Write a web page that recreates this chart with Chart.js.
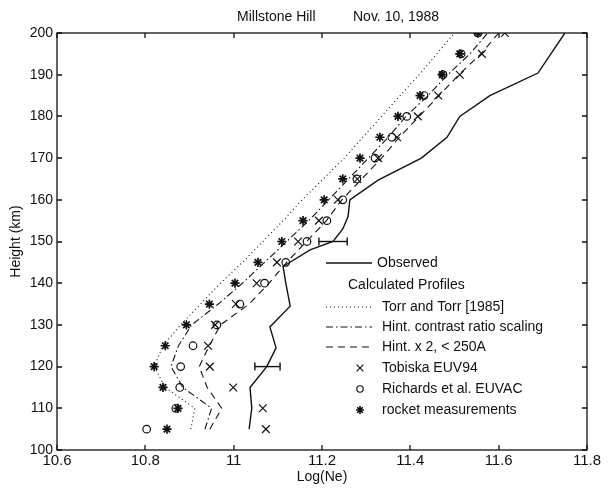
<!DOCTYPE html>
<html>
<head>
<meta charset="utf-8">
<script src="https://cdn.jsdelivr.net/npm/chart.js@4.4.0/dist/chart.umd.min.js"></script>
<style>
  html, body { margin: 0; padding: 0; background: #fff; }
  #wrap { width: 609px; height: 489px; }
</style>
</head>
<body>
<div id="wrap"><canvas id="profileChart" width="609" height="489"></canvas></div>
<script>
// heights (km) for the calculated profiles and the point models
const heights = [105, 110, 115, 120, 125, 130, 135, 140, 145, 150, 155, 160, 165, 170, 175, 180, 185, 190, 195, 200];

// Log(Ne) per height
const torrTorr = [10.903, 10.912, 10.845, 10.820, 10.840, 10.880, 10.925, 10.970, 11.020, 11.066, 11.112, 11.155, 11.203, 11.250, 11.292, 11.335, 11.377, 11.420, 11.460, 11.500];
const contrastScaling = [10.935, 10.950, 10.885, 10.858, 10.875, 10.905, 10.965, 11.020, 11.070, 11.120, 11.170, 11.215, 11.260, 11.305, 11.350, 11.390, 11.440, 11.485, 11.535, 11.575];
const hintX2 = [10.946, 10.973, 10.940, 10.922, 10.945, 10.970, 11.035, 11.080, 11.120, 11.165, 11.210, 11.245, 11.290, 11.335, 11.375, 11.420, 11.465, 11.510, 11.560, 11.600];
const tobiska = [11.073, 11.066, 10.999, 10.946, 10.942, 10.958, 11.005, 11.052, 11.098, 11.146, 11.193, 11.236, 11.280, 11.327, 11.370, 11.417, 11.463, 11.512, 11.562, 11.614];
const richards = [10.803, 10.869, 10.878, 10.880, 10.908, 10.962, 11.014, 11.070, 11.118, 11.166, 11.211, 11.247, 11.279, 11.320, 11.358, 11.392, 11.431, 11.474, 11.515, 11.553];
const rocket = [10.849, 10.874, 10.840, 10.820, 10.845, 10.893, 10.945, 11.003, 11.055, 11.109, 11.157, 11.205, 11.247, 11.286, 11.331, 11.372, 11.422, 11.472, 11.512, 11.553];

// observed profile (its own height grid)
const observedH = [105, 110, 115, 120, 124.5, 129.5, 134.5, 140, 144, 148, 150, 153, 156, 160, 164.7, 170, 175, 180, 185, 190.4, 200];
const observedNe = [11.035, 11.041, 11.037, 11.075, 11.096, 11.082, 11.128, 11.118, 11.112, 11.173, 11.225, 11.247, 11.259, 11.263, 11.327, 11.425, 11.483, 11.512, 11.580, 11.689, 11.750];

// error bars on the observed profile
const errH = [120, 150];
const errLow = [11.048, 11.193];
const errHigh = [11.105, 11.257];

const xTicks = [10.6, 10.8, 11, 11.2, 11.4, 11.6, 11.8];
const yTicks = [100, 110, 120, 130, 140, 150, 160, 170, 180, 190, 200];

const FONT = "'Liberation Sans', Arial, sans-serif";
const INK = "#111";

function pairs(xs, ys) {
    return xs.map((x, i) => ({ x: x, y: ys[i] }));
}

const lineDs = (label, data, dash, width) => ({
    label: label,
    data: data,
    showLine: true,
    borderColor: INK,
    borderWidth: width,
    borderDash: dash,
    pointRadius: 0,
    fill: false,
    tension: 0
});

const markDs = (label, data, style, radius, width) => ({
    label: label,
    data: data,
    showLine: false,
    pointStyle: style,
    pointRadius: radius,
    pointBorderColor: INK,
    pointBackgroundColor: "rgba(0,0,0,0)",
    pointBorderWidth: width
});

const datasets = [
    lineDs("Observed", pairs(observedNe, observedH), [], 1.4),
    lineDs("Torr and Torr [1985]", pairs(torrTorr, heights), [1, 3], 1.1),
    lineDs("Hint. contrast ratio scaling", pairs(contrastScaling, heights), [7, 3, 1.5, 3], 1.1),
    lineDs("Hint. x 2, < 250A", pairs(hintX2, heights), [7, 5], 1.1),
    markDs("Tobiska EUV94", pairs(tobiska, heights), "crossRot", 5.5, 1.2),
    markDs("Richards et al. EUVAC", pairs(richards, heights), "circle", 3.8, 1.2),
    markDs("rocket measurements", pairs(rocket, heights), "star", 4.6, 1.7)
];

// error bars: short horizontal line with end caps
errH.forEach((h, i) => {
    datasets.push({
        label: "err" + i,
        data: [{ x: errLow[i], y: h }, { x: errHigh[i], y: h }],
        showLine: true,
        borderColor: INK,
        borderWidth: 1.4,
        pointStyle: "line",
        rotation: 90,
        pointRadius: 4,
        pointBorderColor: INK,
        pointBorderWidth: 1.4
    });
});

// box around the plot with inward ticks on all four sides
const frameTicks = {
    id: "frameTicks",
    afterDatasetsDraw(chart) {
        const { ctx, chartArea: a, scales } = chart;
        ctx.save();
        ctx.strokeStyle = INK;
        ctx.lineWidth = 1.3;
        ctx.strokeRect(a.left, a.top, a.right - a.left, a.bottom - a.top);
        ctx.beginPath();
        xTicks.forEach(v => {
            const px = Math.round(scales.x.getPixelForValue(v));
            ctx.moveTo(px, a.bottom); ctx.lineTo(px, a.bottom - 5);
            ctx.moveTo(px, a.top); ctx.lineTo(px, a.top + 5);
        });
        yTicks.forEach(v => {
            const py = Math.round(scales.y.getPixelForValue(v));
            ctx.moveTo(a.left, py); ctx.lineTo(a.left + 5, py);
            ctx.moveTo(a.right, py); ctx.lineTo(a.right - 5, py);
        });
        ctx.stroke();
        ctx.restore();
    }
};

// title and in-plot legend
const annotations = {
    id: "annotations",
    afterDraw(chart) {
        const ctx = chart.ctx;
        ctx.save();
        ctx.fillStyle = INK;
        ctx.font = "14px " + FONT;
        ctx.textBaseline = "middle";
        ctx.textAlign = "left";
        ctx.fillText("Millstone Hill", 237, 17);
        ctx.fillText("Nov. 10, 1988", 353, 17);

        const rows = [
            { ds: 0, y: 263, tx: 377 },
            { text: "Calculated Profiles", y: 285, tx: 348 },
            { ds: 1, y: 307, tx: 382 },
            { ds: 2, y: 327, tx: 382 },
            { ds: 3, y: 347, tx: 382 },
            { ds: 4, y: 368, tx: 382 },
            { ds: 5, y: 389, tx: 382 },
            { ds: 6, y: 410, tx: 382 }
        ];
        rows.forEach(r => {
            if (r.ds === undefined) {
                ctx.fillStyle = INK;
                ctx.fillText(r.text, r.tx, r.y);
                return;
            }
            const d = chart.data.datasets[r.ds];
            ctx.strokeStyle = INK;
            if (d.showLine) {
                ctx.lineWidth = d.borderWidth;
                ctx.setLineDash(d.borderDash);
                ctx.beginPath();
                ctx.moveTo(326, r.y);
                ctx.lineTo(372, r.y);
                ctx.stroke();
                ctx.setLineDash([]);
            } else {
                ctx.lineWidth = d.pointBorderWidth;
                ctx.fillStyle = "rgba(0,0,0,0)";
                Chart.helpers.drawPoint(ctx, {
                    pointStyle: d.pointStyle,
                    radius: d.pointRadius * 0.85,
                    rotation: 0,
                    borderWidth: d.pointBorderWidth
                }, 360, r.y);
            }
            ctx.fillStyle = INK;
            ctx.fillText(d.label, r.tx, r.y);
        });
        ctx.restore();
    }
};

new Chart(document.getElementById("profileChart"), {
    type: "scatter",
    data: { datasets: datasets },
    options: {
        responsive: false,
        animation: false,
        devicePixelRatio: 1,
        layout: { padding: { top: 33, right: 22, left: 0, bottom: 0 } },
        plugins: {
            legend: { display: false },
            tooltip: { enabled: false },
            title: { display: false }
        },
        scales: {
            x: {
                type: "linear",
                min: 10.6,
                max: 11.8,
                afterBuildTicks: scale => { scale.ticks = xTicks.map(v => ({ value: v })); },
                afterFit: scale => { scale.height = 39; },
                grid: { display: false, drawTicks: false },
                border: { display: false },
                ticks: {
                    padding: 2,
                    color: INK,
                    font: { family: FONT, size: 15 },
                    maxRotation: 0,
                    callback: v => String(Number(v.toFixed(1)))
                },
                title: {
                    display: true,
                    text: "Log(Ne)",
                    color: INK,
                    font: { family: FONT, size: 14 },
                    padding: { top: 0, bottom: 3 }
                }
            },
            y: {
                type: "linear",
                min: 100,
                max: 200,
                afterBuildTicks: scale => { scale.ticks = yTicks.map(v => ({ value: v })); },
                afterFit: scale => { scale.width = 57; },
                grid: { display: false, drawTicks: false },
                border: { display: false },
                ticks: {
                    padding: 4,
                    color: INK,
                    font: { family: FONT, size: 14 }
                },
                title: {
                    display: true,
                    text: "Height (km)",
                    color: INK,
                    font: { family: FONT, size: 14 },
                    padding: { top: 8, bottom: 0 }
                }
            }
        }
    },
    plugins: [frameTicks, annotations]
});
</script>
</body>
</html>
